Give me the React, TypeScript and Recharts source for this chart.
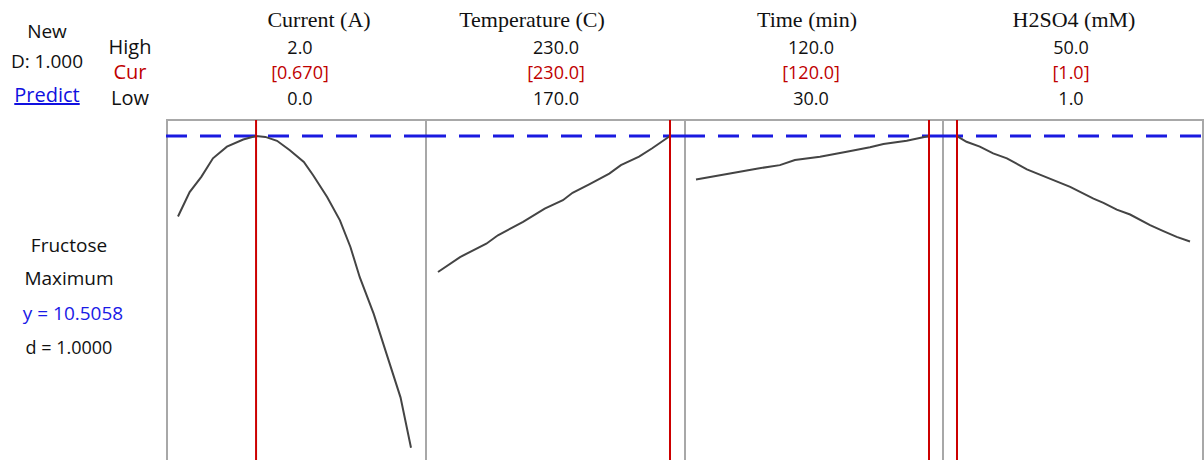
import { LineChart, Line, XAxis, YAxis, ReferenceLine } from "recharts";

// factor names and settings
const factors = ["Current (A)", "Temperature (C)", "Time (min)", "H2SO4 (mM)"];
const highs = [2.0, 230.0, 120.0, 50.0];
const lows = [0.0, 170.0, 30.0, 1.0];
const curs = [0.67, 230.0, 120.0, 1.0];
const highLabels = ["2.0", "230.0", "120.0", "50.0"];
const curLabels = ["[0.670]", "[230.0]", "[120.0]", "[1.0]"];
const lowLabels = ["0.0", "170.0", "30.0", "1.0"];

const yOptimum = 10.5058;

// predicted fructose along each factor (others held at current setting)
const currentX = [0, 0.1, 0.2, 0.3, 0.42, 0.56, 0.67, 0.75, 0.85, 0.96, 1.08, 1.16, 1.28, 1.39, 1.48, 1.56, 1.68, 1.79, 1.91, 2.0];
const currentY = [8.03, 8.78, 9.25, 9.82, 10.18, 10.4, 10.506, 10.48, 10.36, 10.07, 9.71, 9.3, 8.63, 7.91, 7.09, 6.16, 5.03, 3.8, 2.46, 0.91];

const tempX = [170, 175.7, 182.5, 185.5, 192, 197.6, 202.3, 204.8, 209.1, 214.3, 217.3, 222, 225.4, 230];
const tempY = [6.32, 6.78, 7.19, 7.45, 7.86, 8.27, 8.53, 8.76, 9.02, 9.35, 9.61, 9.87, 10.13, 10.506];

const timeX = [30, 43.1, 53.4, 62.4, 68.2, 77.9, 88.2, 97.2, 102.4, 111.4, 120];
const timeY = [9.17, 9.35, 9.5, 9.61, 9.77, 9.87, 10.02, 10.16, 10.26, 10.36, 10.506];

const acidX = [1, 3.0, 5.8, 8.6, 11.5, 15.7, 19.2, 24.8, 29.7, 31.8, 34.6, 37.4, 41.6, 44.4, 47.2, 50];
const acidY = [10.506, 10.33, 10.18, 9.97, 9.82, 9.48, 9.27, 8.94, 8.58, 8.45, 8.24, 8.09, 7.76, 7.58, 7.4, 7.26];

const seriesX = [currentX, tempX, timeX, acidX];
const seriesY = [currentY, tempY, timeY, acidY];

const panelLeft = [166, 425, 684, 942];
const panelWidth = [259, 259, 258, 262];
const padLeft = [12, 13, 12, 15];
const padRight = [14, 14, 13, 12];
const headerCenter = [319, 532, 807, 1074];
const valueCenter = [300, 556, 811, 1071];

const sans = "'Open Sans', 'Noto Sans', sans-serif";
const serif = "'Liberation Serif', 'DejaVu Serif', serif";

function Txt({ x, y, children, color = "#111", font = sans, size = 18, underline = false }: any) {
  return (
    <div
      style={{
        position: "absolute",
        left: x - 150,
        width: 300,
        top: y,
        textAlign: "center",
        fontFamily: font,
        fontSize: size,
        color,
        lineHeight: "1",
        transform: "translateY(-50%)",
        textDecoration: underline ? "underline" : "none",
        whiteSpace: "nowrap",
      }}
    >
      {children}
    </div>
  );
}

export default function App() {
  return (
    <div style={{ position: "absolute", left: 0, top: 0, width: 1204, height: 460, background: "#fff", overflow: "hidden" }}>
      <Txt x={47} y={31} size={19}>New</Txt>
      <Txt x={47} y={61} size={19}>D: 1.000</Txt>
      <Txt x={47} y={95} size={20} color="#1010e0" underline>Predict</Txt>
      <Txt x={130} y={47} size={20}>High</Txt>
      <Txt x={130} y={72} size={20} color="#c00000">Cur</Txt>
      <Txt x={130} y={98} size={20}>Low</Txt>

      <Txt x={69} y={245} size={19}>Fructose</Txt>
      <Txt x={69} y={278} size={19}>Maximum</Txt>
      <Txt x={73} y={313} size={19} color="#1a1ae6">y = 10.5058</Txt>
      <Txt x={69} y={347} size={18}>d = 1.0000</Txt>

      {factors.map((f, i) => (
        <div key={f}>
          <Txt x={headerCenter[i]} y={20} font={serif} size={22}>{f}</Txt>
          <Txt x={valueCenter[i]} y={47}>{highLabels[i]}</Txt>
          <Txt x={valueCenter[i]} y={72} color="#c00000">{curLabels[i]}</Txt>
          <Txt x={valueCenter[i]} y={98}>{lowLabels[i]}</Txt>
        </div>
      ))}

      {factors.map((f, i) => {
        const data = seriesX[i].map((x, k) => ({ x, y: seriesY[i][k] }));
        return (
          <div
            key={"p" + f}
            style={{
              position: "absolute",
              left: panelLeft[i],
              top: 119,
              width: panelWidth[i],
              height: 345,
              boxSizing: "border-box",
              borderTop: "2px solid #a8a8a8",
              borderLeft: "2px solid #a8a8a8",
              borderRight: i === 3 ? "2px solid #a8a8a8" : "none",
            }}
          >
            <div style={{ position: "absolute", left: -2, top: -1 }}>
              <LineChart
                width={i === 3 ? 260 : panelWidth[i]}
                height={341}
                data={data}
                margin={{ top: 0, right: 0, bottom: 0, left: 0 }}
              >
                <XAxis
                  dataKey="x"
                  type="number"
                  domain={[lows[i], highs[i]]}
                  padding={{ left: padLeft[i], right: padRight[i] }}
                  hide
                />
                <YAxis type="number" domain={[0.5, 11]} hide />
                <ReferenceLine y={yOptimum} stroke="#1a1ae0" strokeWidth={3} strokeDasharray="21 13" />
                <Line
                  dataKey="y"
                  type="linear"
                  stroke="#444"
                  strokeWidth={2}
                  dot={false}
                  isAnimationActive={false}
                />
                <ReferenceLine x={curs[i]} stroke="#cc0000" strokeWidth={2} />
              </LineChart>
            </div>
          </div>
        );
      })}
    </div>
  );
}
